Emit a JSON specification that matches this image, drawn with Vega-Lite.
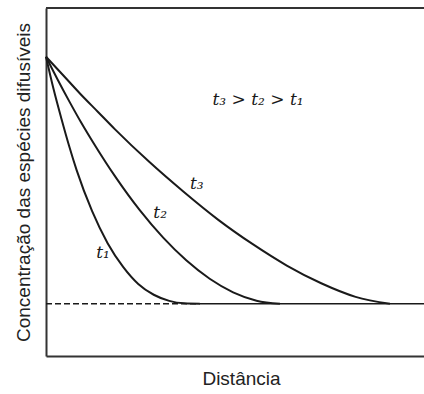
{
  "$schema": "https://vega.github.io/schema/vega-lite/v6.json",
  "width": 378,
  "height": 348,
  "autosize": {"type": "none"},
  "padding": {"left": 46, "top": 8, "right": 0, "bottom": 38},
  "background": "white",
  "config": {"view": {"stroke": null}, "font": "Liberation Sans"},
  "datasets": {
    "curves": [
      {"series": "t1", "x": 0, "y": 86},
      {"series": "t1", "x": 2.0, "y": 76.7},
      {"series": "t1", "x": 4.1, "y": 68.1},
      {"series": "t1", "x": 6.1, "y": 60.4},
      {"series": "t1", "x": 8.1, "y": 53.4},
      {"series": "t1", "x": 12.2, "y": 41.6},
      {"series": "t1", "x": 16.3, "y": 32.4},
      {"series": "t1", "x": 20.4, "y": 25.6},
      {"series": "t1", "x": 24.4, "y": 20.7},
      {"series": "t1", "x": 28.5, "y": 17.6},
      {"series": "t1", "x": 32.6, "y": 15.85},
      {"series": "t1", "x": 36.6, "y": 15.13},
      {"series": "t1", "x": 40.7, "y": 15},
      {"series": "t2", "x": 0, "y": 86},
      {"series": "t2", "x": 3.1, "y": 79.4},
      {"series": "t2", "x": 6.2, "y": 73.1},
      {"series": "t2", "x": 9.3, "y": 67.1},
      {"series": "t2", "x": 12.4, "y": 61.5},
      {"series": "t2", "x": 18.6, "y": 51.1},
      {"series": "t2", "x": 24.8, "y": 41.9},
      {"series": "t2", "x": 31.0, "y": 34.0},
      {"series": "t2", "x": 37.1, "y": 27.5},
      {"series": "t2", "x": 43.3, "y": 22.2},
      {"series": "t2", "x": 49.5, "y": 18.3},
      {"series": "t2", "x": 55.7, "y": 15.9},
      {"series": "t2", "x": 61.9, "y": 15},
      {"series": "t3", "x": 0, "y": 86},
      {"series": "t3", "x": 4.6, "y": 80.6},
      {"series": "t3", "x": 9.1, "y": 75.3},
      {"series": "t3", "x": 13.7, "y": 70.2},
      {"series": "t3", "x": 18.2, "y": 65.2},
      {"series": "t3", "x": 27.3, "y": 55.8},
      {"series": "t3", "x": 36.4, "y": 47.2},
      {"series": "t3", "x": 45.5, "y": 39.2},
      {"series": "t3", "x": 54.6, "y": 32.2},
      {"series": "t3", "x": 63.7, "y": 26.0},
      {"series": "t3", "x": 72.8, "y": 20.9},
      {"series": "t3", "x": 81.9, "y": 17.0},
      {"series": "t3", "x": 91.0, "y": 15}
    ],
    "baseline": [
      {"style": "dashed", "x": 0, "y": 15},
      {"style": "dashed", "x": 40.7, "y": 15},
      {"style": "solid", "x": 40.7, "y": 15},
      {"style": "solid", "x": 100, "y": 15}
    ],
    "border": [
      {"x": 0, "x2": 100, "y": 100}
    ],
    "labels": [
      {"x": 39.9, "y": 49.4, "label": "t₃"},
      {"x": 30.2, "y": 41.1, "label": "t₂"},
      {"x": 15.1, "y": 29.6, "label": "t₁"},
      {"x": 56.1, "y": 73.6, "label": "t₃ > t₂ > t₁"}
    ]
  },
  "layer": [
    {
      "data": {"name": "curves"},
      "mark": {"type": "line", "color": "#1a1a1a", "strokeWidth": 2, "interpolate": "monotone"},
      "encoding": {
        "x": {
          "field": "x", "type": "quantitative",
          "scale": {"domain": [0, 100], "nice": false},
          "axis": {
            "title": "Distância", "titleFont": "Liberation Sans", "titleFontSize": 19,
            "titleFontWeight": "normal", "titleColor": "#222", "titlePadding": 13,
            "titleX": 195,
            "domain": true, "domainColor": "#333", "domainWidth": 2,
            "ticks": false, "labels": false, "grid": false
          }
        },
        "y": {
          "field": "y", "type": "quantitative",
          "scale": {"domain": [0, 100], "nice": false},
          "axis": {
            "title": "Concentração das espécies difusíveis", "titleFont": "Liberation Sans",
            "titleFontSize": 19, "titleFontWeight": "normal", "titleColor": "#222",
            "titlePadding": 13,
            "domain": true, "domainColor": "#333", "domainWidth": 2,
            "ticks": false, "labels": false, "grid": false
          }
        },
        "detail": {"field": "series", "type": "nominal"}
      }
    },
    {
      "data": {"name": "baseline"},
      "mark": {"type": "line", "color": "#1a1a1a", "strokeWidth": 1.6},
      "encoding": {
        "x": {"field": "x", "type": "quantitative"},
        "y": {"field": "y", "type": "quantitative"},
        "detail": {"field": "style", "type": "nominal"},
        "strokeDash": {
          "field": "style", "type": "nominal",
          "scale": {"domain": ["dashed", "solid"], "range": [[6, 3], [1, 0]]},
          "legend": null
        }
      }
    },
    {
      "data": {"name": "border"},
      "mark": {"type": "rule", "color": "#333", "strokeWidth": 2},
      "encoding": {
        "x": {"field": "x", "type": "quantitative"},
        "x2": {"field": "x2"},
        "y": {"field": "y", "type": "quantitative"}
      }
    },
    {
      "data": {"name": "labels"},
      "mark": {"type": "text", "font": "DejaVu Serif", "fontStyle": "italic", "fontSize": 17, "color": "#1a1a1a", "align": "center", "baseline": "middle"},
      "encoding": {
        "x": {"field": "x", "type": "quantitative"},
        "y": {"field": "y", "type": "quantitative"},
        "text": {"field": "label", "type": "nominal"}
      }
    }
  ]
}
